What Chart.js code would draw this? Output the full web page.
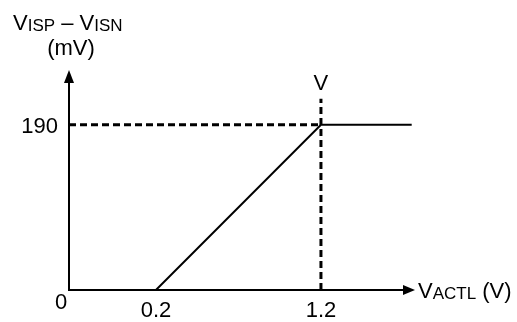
<!DOCTYPE html>
<html><head><meta charset="utf-8">
<script src="https://cdn.jsdelivr.net/npm/chart.js@4"></script>
<style>html,body{margin:0;padding:0;background:#fff;}canvas{display:block;}</style>
</head><body>
<canvas id="c" width="517" height="322"></canvas>
<script>
// ---- data ----
const vactl = [0.2, 1.2, 1.75];        // V_ACTL (V)
const vsense = [0, 190, 190];          // V_ISP - V_ISN (mV)
const kneeX = [1.2];                   // V
const kneeY = [190];                   // mV
const markerTopY = [220];              // mV, top of the vertical dashed marker
const xTickValues = [0.2, 1.2];
const xTickLabels = ['0.2', '1.2'];
const yTickValues = [190];
const yTickLabels = ['190'];
const originLabel = '0';
const xRange = [-0.327, 1.77];
const yRange = [0, 253];

const FONT = '"Liberation Sans", Arial, sans-serif';
const BLACK = '#000';
const MAIN = 22, SUB = 17;

function drawRich(ctx, parts, x, y, align) {
  let total = 0;
  parts.forEach(p => { ctx.font = p.size + 'px ' + FONT; p.w = ctx.measureText(p.t).width; total += p.w; });
  let cx = align === 'center' ? x - total / 2 : (align === 'right' ? x - total : x);
  ctx.textAlign = 'left';
  ctx.textBaseline = 'alphabetic';
  parts.forEach(p => { ctx.font = p.size + 'px ' + FONT; ctx.fillText(p.t, cx, y + (p.dy || 0)); cx += p.w; });
}

const axesPlugin = {
  id: 'axesArrows',
  beforeDatasetsDraw(chart) {
    const ctx = chart.ctx, xs = chart.scales.x, ys = chart.scales.y;
    const ox = xs.getPixelForValue(xRange[0]);
    const oy = ys.getPixelForValue(0);
    const xEnd = xs.getPixelForValue(xRange[1]);
    const yEnd = ys.getPixelForValue(yRange[1]);
    ctx.save();
    ctx.strokeStyle = BLACK; ctx.fillStyle = BLACK; ctx.lineWidth = 2;
    ctx.beginPath();
    ctx.moveTo(ox, oy); ctx.lineTo(ox, yEnd + 12);
    ctx.moveTo(ox - 1, oy); ctx.lineTo(xEnd - 11, oy);
    ctx.stroke();
    ctx.beginPath();
    ctx.moveTo(ox, yEnd); ctx.lineTo(ox - 5, yEnd + 13); ctx.lineTo(ox + 5, yEnd + 13); ctx.closePath();
    ctx.fill();
    ctx.beginPath();
    ctx.moveTo(xEnd, oy); ctx.lineTo(xEnd - 12, oy - 5); ctx.lineTo(xEnd - 12, oy + 5); ctx.closePath();
    ctx.fill();
    ctx.restore();
  },
  afterDraw(chart) {
    const ctx = chart.ctx, xs = chart.scales.x, ys = chart.scales.y;
    const ox = xs.getPixelForValue(xRange[0]);
    const oy = ys.getPixelForValue(0);
    const xEnd = xs.getPixelForValue(xRange[1]);
    ctx.save();
    ctx.fillStyle = BLACK;
    ctx.font = MAIN + 'px ' + FONT;
    ctx.textBaseline = 'alphabetic';
    ctx.textAlign = 'center';
    xTickValues.forEach((v, i) => ctx.fillText(xTickLabels[i], xs.getPixelForValue(v), oy + 27));
    ctx.textAlign = 'right';
    yTickValues.forEach((v, i) => ctx.fillText(yTickLabels[i], ox - 11, ys.getPixelForValue(v) + 8));
    ctx.textAlign = 'center';
    ctx.fillText(originLabel, ox - 8, oy + 19);
    ctx.fillText('V', xs.getPixelForValue(kneeX[0]), ys.getPixelForValue(markerTopY[0]) - 9);
    drawRich(ctx, [{t:'V', size:MAIN}, {t:'ISP', size:SUB, dy:1}, {t:' – ', size:MAIN}, {t:'V', size:MAIN}, {t:'ISN', size:SUB, dy:1}], 13, 30, 'left');
    ctx.font = MAIN + 'px ' + FONT; ctx.textAlign = 'center';
    ctx.fillText('(mV)', 71, 55);
    drawRich(ctx, [{t:'V', size:MAIN}, {t:'ACTL', size:SUB, dy:1}, {t:' (V)', size:MAIN}], xEnd + 3, oy + 8, 'left');
    ctx.restore();
  }
};

const line = (data, dash, width) => ({
  data, showLine: true, borderColor: BLACK, borderWidth: width, borderDash: dash,
  pointRadius: 0, fill: false, tension: 0
});

new Chart(document.getElementById('c'), {
  type: 'scatter',
  data: {
    datasets: [
      line(vactl.map((x, i) => ({x, y: vsense[i]})), [], 2),
      line([{x: xRange[0], y: kneeY[0]}, {x: kneeX[0], y: kneeY[0]}], [7, 4], 3),
      line([{x: kneeX[0], y: 0}, {x: kneeX[0], y: markerTopY[0]}], [7, 4], 3)
    ]
  },
  options: {
    responsive: false,
    animation: false,
    layout: { padding: { left: 69, right: 102, top: 70, bottom: 32 } },
    plugins: { legend: { display: false }, tooltip: { enabled: false } },
    scales: {
      x: { type: 'linear', min: xRange[0], max: xRange[1], display: false },
      y: { type: 'linear', min: yRange[0], max: yRange[1], display: false }
    }
  },
  plugins: [axesPlugin]
});
</script>
</body></html>
